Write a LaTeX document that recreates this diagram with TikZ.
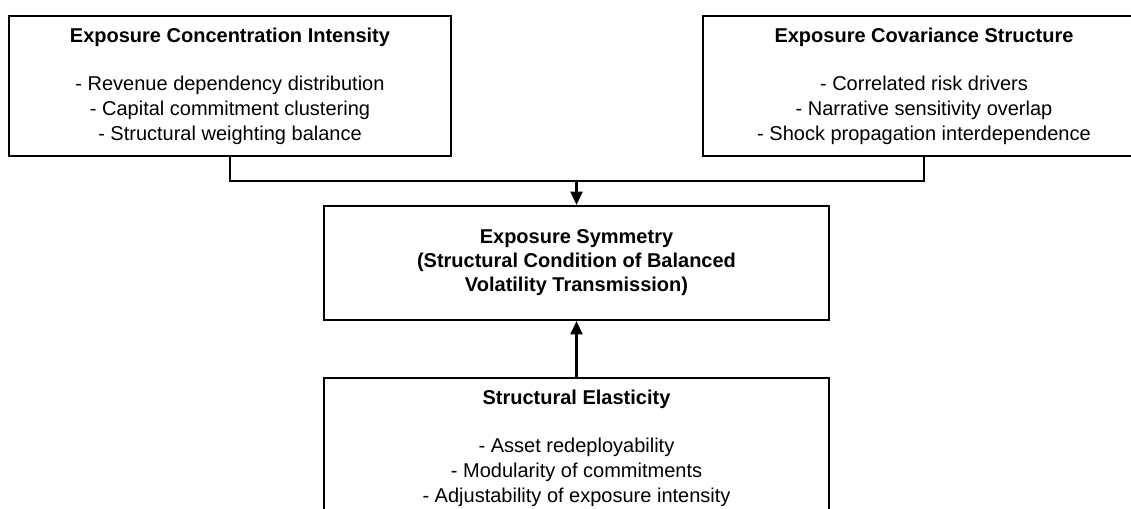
\documentclass[tikz,border=0pt]{standalone}
\usepackage{fontspec}
\setmainfont{Liberation Sans}
\usetikzlibrary{arrows.meta}
\tikzstyle{factor}=[draw, line width=1.6pt, align=center, minimum width=331.5pt, minimum height=105pt, font=\fontsize{15pt}{18.75pt}\selectfont]
\tikzstyle{core}=[draw, line width=1.6pt, align=center, minimum width=378.75pt, minimum height=85.5pt, font=\fontsize{15pt}{18pt}\selectfont]
\tikzstyle{base}=[draw, line width=1.6pt, align=center, minimum width=378.75pt, minimum height=105pt, font=\fontsize{15pt}{18.75pt}\selectfont]

\begin{document}
\begin{tikzpicture}[x=0.75pt, y=-0.75pt, thick]
\useasboundingbox (0,0) rectangle (1131,509);
\clip (0,0) rectangle (1131,509);

\node[factor] (n1) at (230,86) {\textbf{Exposure Concentration Intensity}\\[17pt]
- Revenue dependency distribution\\- Capital commitment clustering\\- Structural weighting balance};
\node[factor] (n2) at (924,86) {\textbf{Exposure Covariance Structure}\\[17pt]
- Correlated risk drivers\\- Narrative sensitivity overlap\\- Shock propagation interdependence};
\node[core] (n3) at (576.5,263) {\textbf{Exposure Symmetry}\\\textbf{(Structural Condition of Balanced}\\\textbf{Volatility Transmission)}};
\node[base] (n4) at (576.5,448) {\textbf{Structural Elasticity}\\[17pt]
- Asset redeployability\\- Modularity of commitments\\- Adjustability of exposure intensity};

\coordinate (j) at (576.5,181);

\draw[line width=1.6pt] (n1.south) |- (j) -| (n2.south);
\draw[line width=1.6pt,-{Triangle[length=10pt,width=9pt]}] (j) -- (n3.north);
\draw[line width=1.6pt,-{Triangle[length=10pt,width=9pt]}] (n4.north) -- (n3.south);

\end{tikzpicture}
\end{document}
